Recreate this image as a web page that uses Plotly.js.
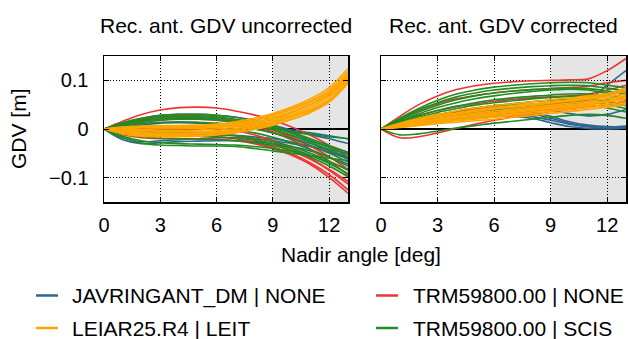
<!DOCTYPE html>
<html>
<head>
<meta charset="utf-8">
<script src="https://cdn.plot.ly/plotly-3.0.1.min.js"></script>
<style>html,body{margin:0;padding:0;background:#fff}#chart{width:628px;height:339px}</style>
</head>
<body>
<div id="chart"></div>
<script>
// Nadir angle samples [deg]
const nadir = [0,1,2,3,4,5,6,7,8,9,10,11,12,13];

// Series labels (legend)
const seriesNames = ["JAVRINGANT_DM | NONE", "TRM59800.00 | NONE", "LEIAR25.R4 | LEIT", "TRM59800.00 | SCIS"];

// ---- Uncorrected GDV [m] ----
const uncJAV = [
  [0,0.012,0.022,0.028,0.030,0.030,0.028,0.024,0.018,0.008,-0.002,-0.008,-0.014,-0.020],
  [0,0.008,0.016,0.020,0.022,0.022,0.020,0.015,0.008,-0.002,-0.014,-0.025,-0.036,-0.048],
  [0,0.004,0.008,0.012,0.013,0.012,0.010,0.006,0.000,-0.008,-0.018,-0.030,-0.045,-0.060],
  [0,-0.006,-0.010,-0.012,-0.012,-0.012,-0.012,-0.013,-0.016,-0.020,-0.027,-0.036,-0.048,-0.062],
  [0,-0.022,-0.030,-0.028,-0.026,-0.025,-0.024,-0.024,-0.026,-0.030,-0.036,-0.045,-0.058,-0.072],
  [0,-0.018,-0.026,-0.024,-0.022,-0.020,-0.018,-0.018,-0.020,-0.024,-0.030,-0.036,-0.042,-0.050],
  [0,0.010,0.018,0.024,0.026,0.026,0.024,0.019,0.012,0.004,-0.004,-0.012,-0.020,-0.030]
];
const uncTRMnone = [
  [0,0.016,0.030,0.039,0.044,0.045,0.043,0.037,0.029,0.018,0.004,-0.013,-0.034,-0.058],
  [0,0.008,0.014,0.018,0.020,0.020,0.018,0.013,0.005,-0.006,-0.022,-0.042,-0.066,-0.095],
  [0,0.002,0.004,0.005,0.005,0.004,0.001,-0.004,-0.012,-0.024,-0.040,-0.060,-0.085,-0.113],
  [0,-0.006,-0.010,-0.012,-0.013,-0.014,-0.016,-0.020,-0.027,-0.037,-0.051,-0.070,-0.094,-0.125],
  [0,-0.012,-0.018,-0.020,-0.020,-0.020,-0.021,-0.024,-0.030,-0.040,-0.054,-0.073,-0.100,-0.132],
  [0,0.012,0.020,0.025,0.027,0.027,0.024,0.018,0.010,-0.002,-0.017,-0.035,-0.057,-0.083],
  [0,-0.004,-0.006,-0.007,-0.007,-0.008,-0.010,-0.014,-0.021,-0.031,-0.045,-0.062,-0.083,-0.108]
];
const uncTRMscis = [
  [0,0.013,0.022,0.028,0.030,0.030,0.028,0.024,0.016,0.006,-0.006,-0.020,-0.034,-0.048],
  [0,0.010,0.017,0.021,0.023,0.023,0.021,0.016,0.009,-0.001,-0.013,-0.027,-0.042,-0.058],
  [0,0.006,0.011,0.014,0.015,0.014,0.012,0.008,0.001,-0.008,-0.020,-0.034,-0.050,-0.068],
  [0,0.002,0.004,0.005,0.005,0.004,0.002,-0.002,-0.008,-0.017,-0.028,-0.042,-0.058,-0.076],
  [0,-0.004,-0.006,-0.007,-0.008,-0.009,-0.011,-0.014,-0.019,-0.026,-0.036,-0.050,-0.066,-0.085],
  [0,-0.010,-0.016,-0.019,-0.020,-0.021,-0.022,-0.024,-0.028,-0.034,-0.044,-0.058,-0.076,-0.098],
  [0,-0.015,-0.024,-0.028,-0.030,-0.031,-0.032,-0.033,-0.036,-0.040,-0.046,-0.055,-0.068,-0.083],
  [0,-0.018,-0.029,-0.033,-0.034,-0.035,-0.035,-0.036,-0.040,-0.045,-0.050,-0.055,-0.060,-0.065],
  [0,0.008,0.014,0.018,0.020,0.020,0.018,0.014,0.008,0.000,-0.006,-0.011,-0.016,-0.020],
  [0,0.011,0.019,0.024,0.026,0.026,0.024,0.020,0.013,0.003,-0.009,-0.023,-0.038,-0.053],
  [0,-0.007,-0.011,-0.013,-0.014,-0.015,-0.016,-0.019,-0.023,-0.030,-0.040,-0.054,-0.071,-0.092]
];
const uncLEIAR = [
  [0,0.004,0.006,0.007,0.007,0.008,0.010,0.015,0.022,0.032,0.045,0.062,0.085,0.124],
  [0,0.002,0.003,0.003,0.003,0.004,0.006,0.010,0.017,0.027,0.040,0.056,0.077,0.113],
  [0,-0.002,-0.003,-0.003,-0.003,-0.002,0.000,0.004,0.011,0.020,0.033,0.049,0.070,0.105],
  [0,-0.005,-0.008,-0.009,-0.009,-0.008,-0.006,-0.002,0.005,0.014,0.026,0.041,0.061,0.097],
  [0,-0.008,-0.012,-0.014,-0.014,-0.013,-0.011,-0.007,0.000,0.009,0.020,0.034,0.055,0.094],
  [0,0.001,0.002,0.002,0.002,0.003,0.005,0.008,0.014,0.023,0.036,0.052,0.073,0.109],
  [0,-0.010,-0.015,-0.016,-0.016,-0.015,-0.012,-0.008,-0.001,0.008,0.020,0.036,0.058,0.100],
  [0,0.003,0.004,0.005,0.005,0.006,0.008,0.012,0.019,0.029,0.042,0.058,0.080,0.118],
  [0,-0.004,-0.006,-0.006,-0.006,-0.005,-0.003,0.001,0.008,0.017,0.029,0.045,0.066,0.102],
  [0,-0.001,-0.001,0.000,0.000,0.001,0.003,0.007,0.013,0.022,0.034,0.050,0.071,0.107],
  [0,-0.007,-0.010,-0.011,-0.011,-0.010,-0.008,-0.004,0.003,0.012,0.024,0.039,0.060,0.099]
];

// ---- Corrected GDV [m] ----
const corJAV = [
  [0,0.010,0.018,0.025,0.031,0.036,0.040,0.043,0.045,0.046,0.050,0.060,0.090,0.120],
  [0,0.008,0.015,0.021,0.027,0.032,0.036,0.037,0.034,0.026,0.015,0.008,0.005,0.005],
  [0,0.006,0.012,0.018,0.023,0.027,0.030,0.030,0.026,0.018,0.010,0.004,0.002,0.003],
  [0,0.012,0.021,0.029,0.036,0.042,0.047,0.050,0.051,0.050,0.048,0.050,0.060,0.075],
  [0,0.004,0.009,0.014,0.019,0.023,0.026,0.026,0.022,0.013,0.005,0.001,0.000,0.002],
  [0,0.009,0.017,0.024,0.030,0.035,0.039,0.041,0.041,0.038,0.032,0.027,0.030,0.040],
  [0,0.007,0.014,0.020,0.025,0.030,0.033,0.034,0.031,0.022,0.012,0.006,0.004,0.006]
];
const corTRMnone = [
  [0,0.026,0.050,0.068,0.081,0.089,0.094,0.097,0.099,0.100,0.101,0.103,0.120,0.145],
  [0,-0.018,-0.016,-0.008,0.001,0.010,0.018,0.025,0.031,0.036,0.040,0.045,0.050,0.055],
  [0,0.015,0.028,0.038,0.046,0.052,0.057,0.061,0.064,0.066,0.068,0.072,0.080,0.090],
  [0,0.020,0.038,0.052,0.062,0.069,0.074,0.078,0.081,0.083,0.085,0.088,0.095,0.100],
  [0,0.010,0.020,0.028,0.035,0.040,0.044,0.047,0.050,0.052,0.055,0.060,0.070,0.085],
  [0,0.005,0.011,0.017,0.022,0.027,0.031,0.034,0.037,0.040,0.043,0.046,0.050,0.058]
];
const corTRMscis = [
  [0,0.022,0.042,0.059,0.072,0.080,0.086,0.090,0.093,0.095,0.096,0.095,0.090,0.085],
  [0,0.018,0.035,0.049,0.060,0.068,0.074,0.078,0.081,0.083,0.084,0.083,0.078,0.070],
  [0,0.014,0.027,0.038,0.047,0.054,0.060,0.064,0.067,0.070,0.072,0.072,0.068,0.060],
  [0,0.010,0.020,0.029,0.037,0.043,0.048,0.052,0.056,0.059,0.061,0.061,0.056,0.048],
  [0,0.006,0.013,0.020,0.027,0.033,0.038,0.042,0.046,0.049,0.051,0.050,0.043,0.035],
  [0,-0.012,-0.010,-0.004,0.002,0.007,0.012,0.016,0.020,0.024,0.028,0.030,0.028,0.022],
  [0,0.016,0.031,0.044,0.054,0.062,0.068,0.073,0.077,0.080,0.082,0.080,0.074,0.075],
  [0,0.012,0.024,0.034,0.042,0.049,0.054,0.058,0.062,0.065,0.067,0.068,0.070,0.080],
  [0,0.020,0.039,0.054,0.066,0.074,0.080,0.084,0.087,0.089,0.090,0.089,0.084,0.078],
  [0,0.008,0.017,0.025,0.032,0.038,0.043,0.047,0.051,0.054,0.056,0.056,0.050,0.042]
];
const corLEIAR = [
  [0,0.012,0.022,0.030,0.037,0.043,0.048,0.052,0.056,0.060,0.064,0.068,0.073,0.080],
  [0,0.009,0.018,0.025,0.031,0.036,0.041,0.045,0.049,0.053,0.057,0.061,0.066,0.072],
  [0,0.007,0.014,0.020,0.025,0.030,0.034,0.038,0.042,0.046,0.050,0.054,0.058,0.064],
  [0,0.005,0.010,0.015,0.019,0.023,0.027,0.031,0.035,0.039,0.043,0.047,0.051,0.056],
  [0,0.003,0.007,0.011,0.014,0.017,0.020,0.024,0.028,0.032,0.036,0.040,0.045,0.050],
  [0,0.011,0.020,0.027,0.033,0.039,0.044,0.048,0.052,0.056,0.060,0.065,0.072,0.085],
  [0,0.006,0.012,0.017,0.022,0.026,0.030,0.034,0.038,0.042,0.046,0.050,0.055,0.062],
  [0,0.010,0.019,0.026,0.032,0.038,0.043,0.047,0.051,0.055,0.059,0.063,0.069,0.077],
  [0,0.008,0.016,0.022,0.028,0.033,0.037,0.041,0.045,0.049,0.053,0.057,0.062,0.068],
  [0,0.004,0.009,0.013,0.017,0.020,0.024,0.028,0.032,0.036,0.040,0.044,0.048,0.053],
  [0,0.006,0.013,0.019,0.024,0.028,0.032,0.036,0.040,0.044,0.048,0.052,0.057,0.066]
];

// Axis ticks
const xTicks = [0,3,6,9,12];
const yTicks = [-0.1,0,0.1];
const yTickText = ["\u22120.1","0","0.1"];

// ---- styling ----
const COL = {jav:"#2f6690", trmNone:"#ee3333", leiar:"#ffa500", trmScis:"#228b22"};
const FONT = "Liberation Sans, Arial, Helvetica, sans-serif";
const W = 628, H = 339;
const px = v => v / W;
const py = v => 1 - v / H;

const traces = [];
function addGroup(curves, color, xa, ya) {
  curves.forEach(c => traces.push({
    x: nadir, y: c, xaxis: xa, yaxis: ya, type: "scatter", mode: "lines",
    line: {color: color, width: 1.6, shape: "spline", smoothing: 1},
    showlegend: false, hoverinfo: "skip"
  }));
}
addGroup(uncJAV, COL.jav, "x", "y");
addGroup(uncTRMnone, COL.trmNone, "x", "y");
addGroup(uncTRMscis, COL.trmScis, "x", "y");
addGroup(uncLEIAR, COL.leiar, "x", "y");
addGroup(corJAV, COL.jav, "x2", "y2");
addGroup(corTRMnone, COL.trmNone, "x2", "y2");
addGroup(corTRMscis, COL.trmScis, "x2", "y2");
addGroup(corLEIAR, COL.leiar, "x2", "y2");

const xBase = {
  range: [0, 13], tickvals: xTicks, ticks: "inside", ticklen: 5, tickcolor: "#000", tickwidth: 1,
  showline: true, linecolor: "#000", linewidth: 1.5, mirror: "ticks",
  showgrid: true, gridcolor: "#000", gridwidth: 1, griddash: "1px,2px",
  zeroline: false, tickfont: {family: FONT, size: 20, color: "#000"}, ticklabelstandoff: 4,
  fixedrange: true
};
const yBase = {
  range: [-0.15, 0.15], tickvals: yTicks, ticktext: yTickText, ticks: "inside", ticklen: 5,
  tickcolor: "#000", tickwidth: 1,
  showline: true, linecolor: "#000", linewidth: 1.5, mirror: "ticks",
  showgrid: true, gridcolor: "#000", gridwidth: 1, griddash: "1px,2px",
  zeroline: true, zerolinecolor: "#000", zerolinewidth: 1.5,
  tickfont: {family: FONT, size: 20, color: "#000"}, ticklabelstandoff: 10,
  fixedrange: true
};

const yTop = 56, yBot = 202;
const layout = {
  width: W, height: H,
  margin: {l: 0, r: 0, t: 0, b: 0},
  paper_bgcolor: "#fff", plot_bgcolor: "#fff",
  showlegend: false,
  xaxis: Object.assign({}, xBase, {domain: [px(104), px(348)], anchor: "y"}),
  yaxis: Object.assign({}, yBase, {domain: [py(yBot), py(yTop)], anchor: "x"}),
  xaxis2: Object.assign({}, xBase, {domain: [px(381), px(626)], anchor: "y2"}),
  yaxis2: Object.assign({}, yBase, {domain: [py(yBot), py(yTop)], anchor: "x2", showticklabels: false}),
  shapes: [
    {type: "rect", xref: "x", yref: "y domain", x0: 9, x1: 13, y0: 0, y1: 1, fillcolor: "#e5e5e5", line: {width: 0}, layer: "below"},
    {type: "rect", xref: "x2", yref: "y2 domain", x0: 9, x1: 13, y0: 0, y1: 1, fillcolor: "#e5e5e5", line: {width: 0}, layer: "below"}
  ],
  annotations: [
    {text: "Rec. ant. GDV uncorrected", xref: "paper", yref: "paper", x: px(226), y: py(26), xanchor: "center", yanchor: "middle", showarrow: false, font: {family: FONT, size: 21, color: "#000"}},
    {text: "Rec. ant. GDV corrected", xref: "paper", yref: "paper", x: px(503), y: py(26), xanchor: "center", yanchor: "middle", showarrow: false, font: {family: FONT, size: 21, color: "#000"}},
    {text: "Nadir angle [deg]", xref: "paper", yref: "paper", x: px(361), y: py(255), xanchor: "center", yanchor: "middle", showarrow: false, font: {family: FONT, size: 21, color: "#000"}},
    {text: "GDV [m]", xref: "paper", yref: "paper", x: px(19), y: py(129), xanchor: "center", yanchor: "middle", textangle: -90, showarrow: false, font: {family: FONT, size: 21, color: "#000"}}
  ]
};

// Manual legend (2 columns x 2 rows)
const legendItems = [
  {name: seriesNames[0], color: COL.jav, lx: 36, tx: 70, y: 295.5},
  {name: seriesNames[1], color: COL.trmNone, lx: 376, tx: 411, y: 295.5},
  {name: seriesNames[2], color: COL.leiar, lx: 36, tx: 70, y: 328},
  {name: seriesNames[3], color: COL.trmScis, lx: 376, tx: 411, y: 328}
];
legendItems.forEach(it => {
  layout.shapes.push({type: "line", xref: "paper", yref: "paper", x0: px(it.lx), x1: px(it.lx + 22), y0: py(it.y), y1: py(it.y), line: {color: it.color, width: 2.5}});
  layout.annotations.push({text: it.name, xref: "paper", yref: "paper", x: px(it.tx), y: py(it.y), xanchor: "left", yanchor: "middle", showarrow: false, font: {family: FONT, size: 21, color: "#000"}});
});

Plotly.newPlot("chart", traces, layout, {displayModeBar: false, staticPlot: true});
</script>
</body>
</html>
